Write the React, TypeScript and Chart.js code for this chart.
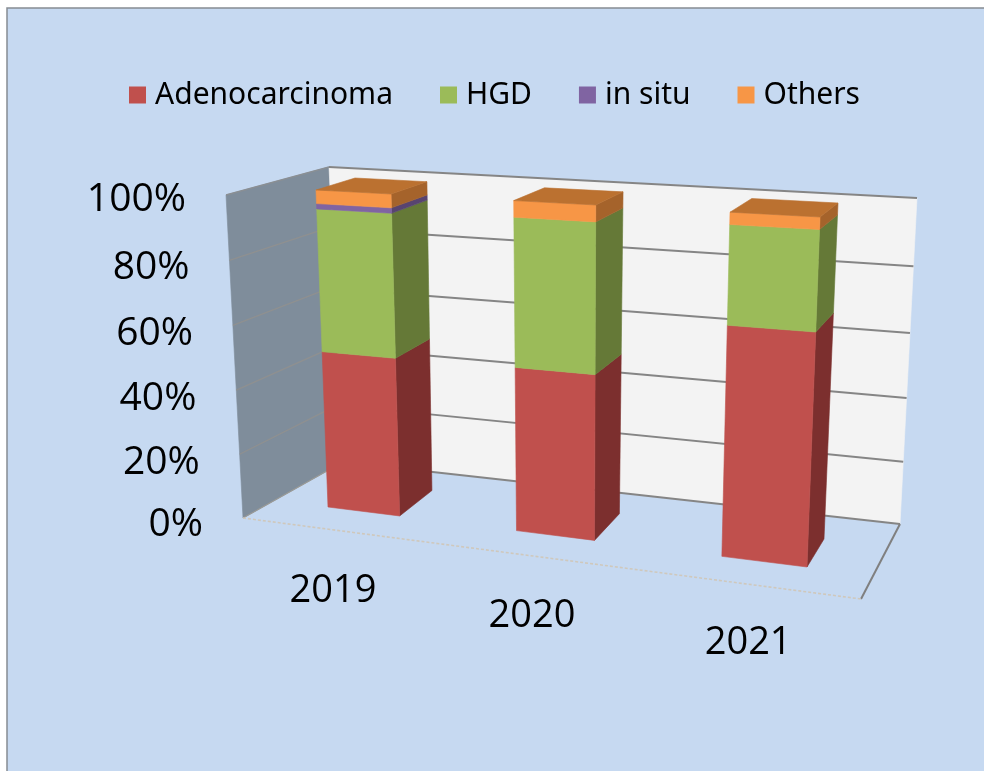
import React, { useEffect, useRef } from "react";
import { Chart, registerables } from "chart.js";

Chart.register(...registerables);

const categories = ["2019", "2020", "2021"];
const adenocarcinoma = [50.2, 50.7, 68.3];
const hgd = [44.1, 44.5, 28.3];
const inSitu = [1.6, 0, 0];
const others = [4.1, 4.8, 3.4];

const seriesNames = ["Adenocarcinoma", "HGD", "in situ", "Others"];
const frontColors = ["#C0504D", "#9BBB59", "#8064A2", "#F79646"];
const sideColors = ["#7C2F2E", "#657937", "#584470", "#A5632B"];
const topColor = "#BB7130";

type P = [number, number];
type H = (s: number, v: number) => P;

// homography from the unit square to a quad: (0,0) (1,0) (1,1) (0,1)
function quad(p0: P, p1: P, p2: P, p3: P): H {
  const dx1 = p1[0] - p2[0], dx2 = p3[0] - p2[0], sx = p0[0] - p1[0] + p2[0] - p3[0];
  const dy1 = p1[1] - p2[1], dy2 = p3[1] - p2[1], sy = p0[1] - p1[1] + p2[1] - p3[1];
  const den = dx1 * dy2 - dx2 * dy1;
  const g = (sx * dy2 - dx2 * sy) / den;
  const h = (dx1 * sy - sx * dy1) / den;
  const a = p1[0] - p0[0] + g * p1[0], b = p3[0] - p0[0] + h * p3[0], c = p0[0];
  const d = p1[1] - p0[1] + g * p1[1], e = p3[1] - p0[1] + h * p3[1], f = p0[1];
  return (s, v) => {
    const w = g * s + h * v + 1;
    return [(a * s + b * v + c) / w, (d * s + e * v + f) / w];
  };
}

const barFront = quad([328, 507], [807, 567], [820, 217], [316, 190]);
const barBack = quad([363, 482], [824, 539], [838, 203], [355, 178]);

const FTL: P = [226, 195], BTL: P = [329, 167], BBL: P = [343, 462], FBL: P = [243, 518];
const BTR: P = [917, 198], BBR: P = [900, 524], FBR: P = [861, 599];

const leftWall = quad(FBL, BBL, BTL, FTL);
const backWall = quad(BBL, BBR, BTR, BTL);
const yLabels = quad([203, 525], [303, 525], [291, 200], [186, 200]);

function poly(ctx: CanvasRenderingContext2D, pts: P[], fill: string) {
  ctx.beginPath();
  pts.forEach((p, i) => (i ? ctx.lineTo(p[0], p[1]) : ctx.moveTo(p[0], p[1])));
  ctx.closePath();
  ctx.fillStyle = fill;
  ctx.strokeStyle = fill;
  ctx.lineWidth = 0.6;
  ctx.fill();
  ctx.stroke();
}

function line(ctx: CanvasRenderingContext2D, a: P, b: P, color: string, width: number, dash: number[] = []) {
  ctx.beginPath();
  ctx.moveTo(a[0], a[1]);
  ctx.lineTo(b[0], b[1]);
  ctx.strokeStyle = color;
  ctx.lineWidth = width;
  ctx.setLineDash(dash);
  ctx.stroke();
  ctx.setLineDash([]);
}

function barSpan(chart: any) {
  const meta = chart.getDatasetMeta(0).data;
  const first = meta[0], last = meta[meta.length - 1];
  const xL = first.x - first.width / 2;
  const xR = last.x + last.width / 2;
  return { xL, xR };
}

const scene3d = {
  id: "scene3d",
  beforeDraw(chart: any) {
    const { ctx, chartArea, width, height } = chart;
    ctx.save();
    ctx.fillStyle = "#FFFFFF";
    ctx.fillRect(0, 0, width, height);
    ctx.fillStyle = "#C6D9F1";
    ctx.fillRect(7, 8, width - 7, height - 8);
    ctx.strokeStyle = "#868C92";
    ctx.lineWidth = 1.5;
    ctx.beginPath();
    ctx.moveTo(7, height);
    ctx.lineTo(7, 8);
    ctx.lineTo(width, 8);
    ctx.stroke();
    ctx.restore();

    const H = chartArea.bottom - chartArea.top;
    const { xL, xR } = barSpan(chart);
    chart.scales.y.getLabelItems().forEach((it: any) => {
      const v = (chartArea.bottom - it.options.translation[1]) / H;
      it.options.translation = yLabels(0, v);
      it.options.textAlign = "right";
      it.options.textBaseline = "middle";
      it.textOffset = 0;
    });
    chart.scales.x.getLabelItems().forEach((it: any) => {
      const t = (it.options.translation[0] - xL) / (xR - xL);
      const p = barFront(t, 0);
      it.options.translation = [p[0] - 32 + 17.5 * t, p[1] + 79 + 3 * t];
      it.options.textAlign = "center";
      it.options.textBaseline = "middle";
      it.textOffset = 0;
    });
  },
  beforeDatasetsDraw(chart: any) {
    const { ctx, chartArea, scales } = chart;
    const H = chartArea.bottom - chartArea.top;
    const toV = (py: number) => (chartArea.bottom - py) / H;
    ctx.save();

    poly(ctx, [FTL, BTL, BBL, FBL], "#7F8D9B");
    poly(ctx, [BTL, BTR, BBR, BBL], "#F3F3F3");

    scales.y.ticks.forEach((tick: any) => {
      const v = toV(scales.y.getPixelForValue(tick.value));
      if (v <= 0 || v >= 1) return;
      line(ctx, leftWall(0, v), leftWall(1, v), "#8F9090", 1.3);
      line(ctx, backWall(0, v), backWall(1, v), "#858585", 2);
    });
    line(ctx, FTL, BTL, "#8A8F94", 1.5);
    line(ctx, BTL, BTR, "#858585", 2);
    line(ctx, BBL, BBR, "#858585", 2);
    line(ctx, FBL, BBL, "#9A9A96", 1.3);
    line(ctx, BBR, FBR, "#808080", 2);
    line(ctx, FBL, FBR, "#CFC8BC", 1.6, [3, 2]);

    const { xL, xR } = barSpan(chart);
    const span = xR - xL;
    categories.forEach((_, i) => {
      let topV = 0, sL = 0, sR = 0;
      chart.data.datasets.forEach((ds: any, d: number) => {
        const el = chart.getDatasetMeta(d).data[i];
        sL = (el.x - el.width / 2 - xL) / span;
        sR = (el.x + el.width / 2 - xL) / span;
        const v0 = toV(el.base), v1 = toV(el.y);
        if (v1 - v0 < 0.001) return;
        topV = v1;
        poly(ctx, [barFront(sR, v0), barBack(sR, v0), barBack(sR, v1), barFront(sR, v1)], sideColors[d]);
        poly(ctx, [barFront(sL, v0), barFront(sR, v0), barFront(sR, v1), barFront(sL, v1)], ds.backgroundColor);
      });
      poly(ctx, [barFront(sL, topV), barFront(sR, topV), barBack(sR, topV), barBack(sL, topV)], topColor);
    });
    ctx.restore();
  },
  beforeDatasetDraw() {
    return false;
  },
};

const seriesValues = [adenocarcinoma, hgd, inSitu, others];

export default function App() {
  const ref = useRef<HTMLCanvasElement>(null);
  useEffect(() => {
    document.body.style.margin = "0";
    const chart = new Chart(ref.current as HTMLCanvasElement, {
      type: "bar",
      data: {
        labels: categories,
        datasets: seriesNames.map((name, i) => ({
          label: name,
          data: seriesValues[i],
          backgroundColor: frontColors[i],
          barPercentage: 0.39,
          categoryPercentage: 1,
        })),
      },
      options: {
        responsive: false,
        animation: false,
        layout: { padding: { top: 27, left: 71, right: 60, bottom: 100 } },
        plugins: {
          title: { display: false },
          tooltip: { enabled: false },
          legend: {
            position: "top",
            labels: {
              color: "#000000",
              font: { family: "'Noto Sans'", size: 30 },
              padding: 53,
              boxWidth: 5,
              boxHeight: 5,
              generateLabels: (c: any) =>
                c.data.datasets.map((ds: any, i: number) => ({
                  text: ds.label,
                  fillStyle: ds.backgroundColor,
                  strokeStyle: ds.backgroundColor,
                  lineWidth: 12,
                  datasetIndex: i,
                })),
            },
          },
        },
        scales: {
          x: {
            stacked: true,
            grid: { display: false },
            border: { display: false },
            ticks: {
              mirror: true,
              autoSkip: false,
              maxRotation: 0,
              color: "#000000",
              font: { family: "'Open Sans'", size: 38 },
            },
          },
          y: {
            stacked: true,
            min: 0,
            max: 100,
            grid: { display: false },
            border: { display: false },
            ticks: {
              mirror: true,
              stepSize: 20,
              color: "#000000",
              font: { family: "'Open Sans'", size: 39 },
              callback: (v: any) => `${v}%`,
            },
          },
        },
      },
      plugins: [scene3d],
    } as any);
    return () => chart.destroy();
  }, []);
  return <canvas ref={ref} width={984} height={771} style={{ display: "block" }} />;
}
